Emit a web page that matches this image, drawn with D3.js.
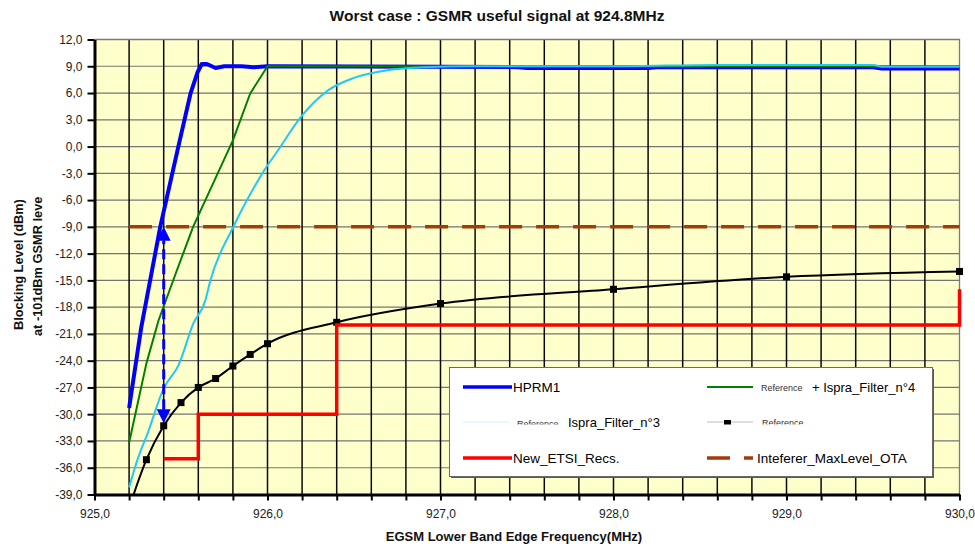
<!DOCTYPE html>
<html>
<head>
<meta charset="utf-8">
<script src="https://cdn.jsdelivr.net/npm/d3@7"></script>
<style>
  body { margin: 0; background: #fff; }
  svg { display: block; font-family: "Liberation Sans", Arial, sans-serif; }
</style>
</head>
<body>
<svg id="chart" width="975" height="547"></svg>
<script>
// ---- data -------------------------------------------------------------
// frequency (MHz), blocking level (dBm)
const hprm1 = [
  [925.2, -29.3], [925.27, -20.3], [925.38, -9.0], [925.48, -0.4], [925.555, 5.95],
  [925.595, 8.3], [925.62, 9.25], [925.65, 9.25], [925.7, 8.8], [925.75, 9.0],
  [925.85, 9.0], [925.92, 8.9], [926.0, 9.0], [927.0, 8.95], [927.45, 8.9],
  [927.5, 8.8], [928.2, 8.8], [928.25, 8.9], [929.5, 8.9], [929.55, 8.75], [930.0, 8.75]
];
const ispraFilter4 = [
  [925.2, -33.2], [925.3, -24.3], [925.37, -19.5], [925.47, -14.2], [925.57, -9.0],
  [925.8, 0.7], [925.9, 5.95], [926.0, 9.0], [927.0, 9.0], [930.0, 9.0]
];
const ispraFilter3 = [
  [925.2, -38.2], [925.25, -35.0], [925.306, -32.2], [925.4, -27.1], [925.486, -24.5],
  [925.572, -19.8], [925.64, -17.3], [925.67, -15.0], [925.8, -9.1], [925.88, -6.05],
  [925.98, -2.7], [926.06, -0.44], [926.19, 3.25], [926.35, 6.3], [926.5, 7.7],
  [926.71, 8.6], [926.9, 8.9], [927.2, 9.0], [928.0, 9.0], [928.6, 9.15],
  [929.5, 9.15], [929.55, 8.95], [930.0, 8.95]
];
const reference = [
  [925.2, -40.5], [925.3, -35.1], [925.4, -31.3], [925.5, -28.7], [925.6, -27.0],
  [925.7, -26.0], [925.8, -24.6], [925.9, -23.3], [926.0, -22.1], [926.4, -19.7],
  [927.0, -17.6], [928.0, -16.0], [929.0, -14.6], [930.0, -14.0]
];
const newEtsiRecs = [
  [925.4, -35], [925.6, -35], [925.6, -30], [926.4, -30], [926.4, -20], [930.0, -20], [930.0, -16]
];
const interfererMaxLevel = [[925.2, -9], [930.0, -9]];
// annotation arrow: frequency, from level, to level
const arrowFreq = 925.4, arrowFrom = -31, arrowTo = -9;

const xTicks = d3.range(0, 26).map(i => +(925 + i * 0.2).toFixed(1));
const xLabelTicks = [925, 926, 927, 928, 929, 930];
const yTicks = d3.range(-39, 13, 3);

const legendNames = ["HPRM1", "+ Ispra_Filter_n°4", "Ispra_Filter_n°3", "", "New_ETSI_Recs.", "Inteferer_MaxLevel_OTA"];
const legendNotes = ["", "Reference", "Reference", "Reference", "", ""];

const titleText = "Worst case : GSMR useful signal at 924.8MHz";
const xTitle = "EGSM Lower Band Edge Frequency(MHz)";
const yTitle1 = "Blocking Level (dBm)";
const yTitle2 = "at -101dBm GSMR leve";

// ---- layout -----------------------------------------------------------
const L = 94.5, R = 959.5, T = 39.5, B = 494.5;
const x = d3.scaleLinear().domain([925, 930]).range([L, R]);
const y = d3.scaleLinear().domain([-39, 12]).range([B, T]);
const fmt = v => d3.format(".1f")(v).replace(".", ",").replace("−", "-");

const svg = d3.select("#chart");

// plot background
svg.append("rect").attr("x", L).attr("y", T).attr("width", R - L).attr("height", B - T)
  .attr("fill", "#ffffcc");

// grid
const grid = svg.append("g");
grid.selectAll("line.h").data(yTicks.filter(v => v > -39 && v < 12)).join("line")
  .attr("x1", L).attr("x2", R).attr("y1", d => y(d)).attr("y2", d => y(d))
  .attr("stroke", "#747474").attr("stroke-width", 1.2);
grid.selectAll("line.v").data(xTicks.filter(v => v > 925 && v < 930)).join("line")
  .attr("y1", T).attr("y2", B).attr("x1", d => x(d)).attr("x2", d => x(d))
  .attr("stroke", "#0a0a0a").attr("stroke-width", 1.5);
// top / right frame
svg.append("path").attr("d", `M${L},${T}H${R}V${B}`).attr("fill", "none")
  .attr("stroke", "#7a7a7a").attr("stroke-width", 1.3);

// clip for series
svg.append("clipPath").attr("id", "plotclip").append("rect")
  .attr("x", L).attr("y", T - 3).attr("width", R - L + 4).attr("height", B - T + 3);
const plot = svg.append("g").attr("clip-path", "url(#plotclip)");

const lineLin = d3.line().x(d => x(d[0])).y(d => y(d[1]));
const lineSmooth = d3.line().x(d => x(d[0])).y(d => y(d[1])).curve(d3.curveMonotoneX);

plot.append("path").datum(hprm1).attr("d", lineLin).attr("fill", "none")
  .attr("stroke", "#0000ff").attr("stroke-width", 4).attr("stroke-linejoin", "round");
plot.append("path").datum(ispraFilter4).attr("d", lineLin).attr("fill", "none")
  .attr("stroke", "#008000").attr("stroke-width", 2).attr("stroke-linejoin", "round");
plot.append("path").datum(ispraFilter3).attr("d", lineSmooth).attr("fill", "none")
  .attr("stroke", "#22c8f6").attr("stroke-width", 2).attr("stroke-linejoin", "round");
plot.append("path").datum(reference).attr("d", lineSmooth).attr("fill", "none")
  .attr("stroke", "#000").attr("stroke-width", 2);
plot.selectAll("rect.mk").data(reference.filter(d => d[1] >= -39)).join("rect")
  .attr("x", d => x(d[0]) - 3.5).attr("y", d => y(d[1]) - 3.5)
  .attr("width", 7).attr("height", 7).attr("fill", "#000");
plot.append("path").datum(newEtsiRecs).attr("d", lineLin).attr("fill", "none")
  .attr("stroke", "#ff0000").attr("stroke-width", 3.5);
plot.append("path").datum(interfererMaxLevel).attr("d", lineLin).attr("fill", "none")
  .attr("stroke", "#a23c08").attr("stroke-width", 3.5).attr("stroke-dasharray", "23,14");

// annotation arrow (dashed, double headed)
const ax = x(arrowFreq), ay1 = y(arrowFrom), ay2 = y(arrowTo);
svg.append("line").attr("x1", ax).attr("x2", ax).attr("y1", ay1 - 14).attr("y2", ay2 + 14)
  .attr("stroke", "#0000ff").attr("stroke-width", 3).attr("stroke-dasharray", "10,5");
svg.append("path").attr("d", `M${ax},${ay1}l-7,-14h14z`).attr("fill", "#0000ff");
svg.append("path").attr("d", `M${ax},${ay2}l-7,14h14z`).attr("fill", "#0000ff");

// axes
const yAxis = svg.append("g").attr("transform", `translate(${L},0)`)
  .call(d3.axisLeft(y).tickValues(yTicks).tickSize(7).tickSizeOuter(0).tickPadding(5).tickFormat(fmt));
const xAxis = svg.append("g").attr("transform", `translate(0,${B})`)
  .call(d3.axisBottom(x).tickValues(xTicks).tickSize(6).tickSizeOuter(0).tickPadding(9)
    .tickFormat(d => xLabelTicks.includes(d) ? fmt(d) : ""));
[yAxis, xAxis].forEach(g => {
  g.select(".domain").attr("stroke", "#000").attr("stroke-width", 3);
  g.selectAll(".tick line").attr("stroke", "#000").attr("stroke-width", 2);
  g.selectAll(".tick text").attr("fill", "#222").attr("font-size", 12)
    .attr("font-family", "'Liberation Sans', Arial, sans-serif");
});

// titles
svg.append("text").attr("x", 497).attr("y", 21).attr("text-anchor", "middle")
  .attr("font-weight", "bold").attr("font-size", 15.5).attr("fill", "#111").text(titleText);
svg.append("text").attr("x", 514).attr("y", 541).attr("text-anchor", "middle")
  .attr("font-weight", "bold").attr("font-size", 13).attr("fill", "#111").text(xTitle);
svg.append("text").attr("transform", "translate(23,330) rotate(-90)")
  .attr("font-weight", "bold").attr("font-size", 12.8).attr("fill", "#111").text(yTitle1);
svg.append("text").attr("transform", "translate(42,336) rotate(-90)")
  .attr("font-weight", "bold").attr("font-size", 12.8).attr("fill", "#111").text(yTitle2);

// legend
const lg = svg.append("g");
lg.append("rect").attr("x", 451).attr("y", 369).attr("width", 483).attr("height", 109).attr("fill", "#5a5a5a");
lg.append("rect").attr("x", 449.5).attr("y", 367.5).attr("width", 483).attr("height", 109)
  .attr("fill", "#fff").attr("stroke", "#6a6a6a").attr("stroke-width", 1);
lg.append("clipPath").attr("id", "rowclip").append("rect")
  .attr("x", 450).attr("y", 405).attr("width", 480).attr("height", 19.5);

const rowY = [387, 422, 458];
const nameFont = 13.5, noteFont = 9;
// row 1
lg.append("line").attr("x1", 463).attr("x2", 512).attr("y1", rowY[0]).attr("y2", rowY[0])
  .attr("stroke", "#0000ff").attr("stroke-width", 3.5);
lg.append("text").attr("x", 513).attr("y", rowY[0]).attr("dy", "0.35em").attr("font-size", nameFont).text(legendNames[0]);
lg.append("line").attr("x1", 707).attr("x2", 753).attr("y1", rowY[0]).attr("y2", rowY[0])
  .attr("stroke", "#008000").attr("stroke-width", 2);
lg.append("text").attr("x", 761).attr("y", rowY[0] + 1).attr("dy", "0.35em").attr("font-size", noteFont).attr("fill", "#333").text(legendNotes[1]);
lg.append("text").attr("x", 812).attr("y", rowY[0]).attr("dy", "0.35em").attr("font-size", 13).text(legendNames[1]);
// row 2
const r2 = lg.append("g").attr("clip-path", "url(#rowclip)");
r2.append("line").attr("x1", 463).attr("x2", 509).attr("y1", rowY[1]).attr("y2", rowY[1])
  .attr("stroke", "#d2f3fb").attr("stroke-width", 1.2);
r2.append("text").attr("x", 517).attr("y", rowY[1] + 2).attr("dy", "0.35em").attr("font-size", noteFont).attr("fill", "#333").text(legendNotes[2]);
lg.append("text").attr("x", 568).attr("y", rowY[1]).attr("dy", "0.35em").attr("font-size", 13).text(legendNames[2]);
r2.append("line").attr("x1", 707).attr("x2", 753).attr("y1", rowY[1]).attr("y2", rowY[1])
  .attr("stroke", "#bdbdbd").attr("stroke-width", 1.2);
r2.append("rect").attr("x", 724).attr("y", rowY[1] - 2).attr("width", 7).attr("height", 6).attr("fill", "#000");
r2.append("text").attr("x", 762).attr("y", rowY[1] + 1).attr("dy", "0.35em").attr("font-size", noteFont).attr("fill", "#333").text(legendNotes[3]);
// row 3
lg.append("line").attr("x1", 463).attr("x2", 512).attr("y1", rowY[2]).attr("y2", rowY[2])
  .attr("stroke", "#ff0000").attr("stroke-width", 3.5);
lg.append("text").attr("x", 513).attr("y", rowY[2]).attr("dy", "0.35em").attr("font-size", nameFont).text(legendNames[4]);
lg.append("line").attr("x1", 707).attr("x2", 753).attr("y1", rowY[2]).attr("y2", rowY[2])
  .attr("stroke", "#a23c08").attr("stroke-width", 3.5).attr("stroke-dasharray", "23,14");
lg.append("text").attr("x", 757).attr("y", rowY[2]).attr("dy", "0.35em").attr("font-size", nameFont).text(legendNames[5]);
</script>
</body>
</html>
